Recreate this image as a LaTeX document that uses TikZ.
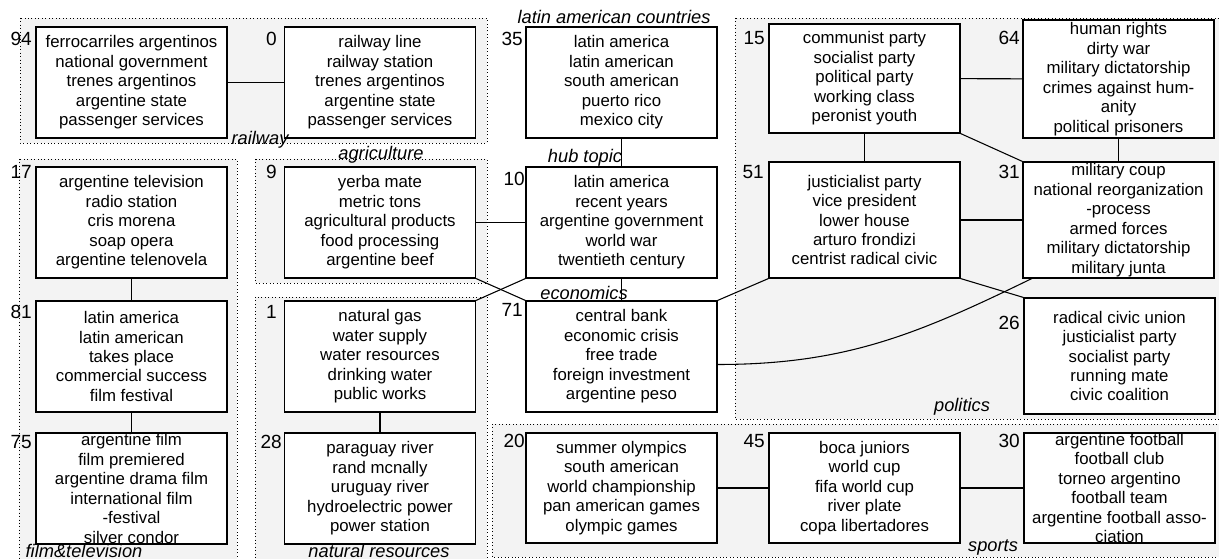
\documentclass[tikz,border=0pt]{standalone}
\usepackage{fontspec}
\setmainfont{Liberation Sans}
\usepackage{xcolor}
\usepackage{tikz}
\definecolor{groupgray}{HTML}{F3F3F3}
\definecolor{inkblack}{HTML}{000000}
\newcommand\topicsize{\fontsize{12.6pt}{14.6pt}\selectfont}
\newcommand\numsize{\fontsize{14.3pt}{16pt}\selectfont}
\newcommand\tagsize{\fontsize{13.7pt}{15pt}\selectfont}
\tikzset{
  topicbox/.style={draw=inkblack,line width=0.8pt,fill=white,minimum width=143.25pt,minimum height=83.25pt,inner xsep=2pt,inner ysep=0pt,align=center,font=\topicsize},
  topicnum/.style={anchor=east,inner sep=0pt,font=\numsize},
  grouparea/.style={draw=inkblack,dotted,line width=0.6pt,fill=groupgray},
  grouptag/.style={inner sep=0pt,font=\tagsize\itshape},
  topiclink/.style={draw=inkblack,line width=0.8pt},
}
\begin{document}
\begin{tikzpicture}[x=0.75pt,y=-0.75pt]
  \useasboundingbox (0,0) rectangle (1219,559);
  % topic groups
  \draw[grouparea] (20,18) rectangle (487,143);
  \draw[grouparea] (19,159) rectangle (237,566);
  \draw[grouparea] (255,159) rectangle (487,283);
  \draw[grouparea] (255,297) rectangle (487,566);
  \draw[grouparea] (735,18) rectangle (1226,419);
  \draw[grouparea] (492,424) rectangle (1226,557);
  % topics
  \node[topicbox] (b94) at (131.5,82.5) {ferrocarriles argentinos\\national government\\trenes argentinos\\argentine state\\passenger services};
  \node[topicbox] (b0) at (380,82.5) {railway line\\railway station\\trenes argentinos\\argentine state\\passenger services};
  \node[topicbox] (b35) at (621.5,82.5) {latin america\\latin american\\south american\\puerto rico\\mexico city};
  \node[topicbox,minimum height=81.75pt] (b15) at (864.5,78.5) {communist party\\socialist party\\political party\\working class\\peronist youth};
  \node[topicbox,minimum height=88.5pt] (b64) at (1118.5,79) {human rights\\dirty war\\military dictatorship\\crimes against hum-\\anity\\political prisoners};
  \node[topicbox] (b17) at (131.5,222.5) {argentine television\\radio station\\cris morena\\soap opera\\argentine telenovela};
  \node[topicbox] (b9) at (380,222.5) {yerba mate\\metric tons\\agricultural products\\food processing\\argentine beef};
  \node[topicbox] (b10) at (621.5,222.5) {latin america\\recent years\\argentine government\\world war\\twentieth century};
  \node[topicbox,minimum height=87pt] (b51) at (864.5,220) {justicialist party\\vice president\\lower house\\arturo frondizi\\centrist radical civic};
  \node[topicbox,minimum height=87pt] (b31) at (1118.5,220) {military coup\\national reorganization\\-process\\armed forces\\military dictatorship\\military junta};
  \node[topicbox] (b81) at (131.5,356.5) {latin america\\latin american\\takes place\\commercial success\\film festival};
  \node[topicbox] (b1) at (380,356.5) {natural gas\\water supply\\water resources\\drinking water\\public works};
  \node[topicbox] (b71) at (621.5,356.5) {central bank\\economic crisis\\free trade\\foreign investment\\argentine peso};
  \node[topicbox,minimum height=87pt] (b26) at (1119.5,356) {radical civic union\\justicialist party\\socialist party\\running mate\\civic coalition};
  \node[topicbox] (b75) at (131.5,488.5) {argentine film\\film premiered\\argentine drama film\\international film\\-festival\\silver condor};
  \node[topicbox] (b28) at (380,488.5) {paraguay river\\rand mcnally\\uruguay river\\hydroelectric power\\power station};
  \node[topicbox,minimum height=82.5pt] (b20) at (621.5,488) {summer olympics\\south american\\world championship\\pan american games\\olympic games};
  \node[topicbox,minimum height=82.5pt] (b45) at (864.5,488) {boca juniors\\world cup\\fifa world cup\\river plate\\copa libertadores};
  \node[topicbox,minimum height=82.5pt] (b30) at (1119.5,488) {argentine football\\football club\\torneo argentino\\football team\\argentine football asso-\\ciation};
  % links
  \draw[topiclink] (b94)--(b0); \draw[topiclink] (b35)--(b10); \draw[topiclink] (b10)--(b71);
  \draw[topiclink] (b15)--(b64); \draw[topiclink] (b15)--(b51); \draw[topiclink] (b64)--(b31);
  \draw[topiclink] (b51)--(b31); \draw[topiclink] (b15.south east)--(b31.north west);
  \draw[topiclink] (b51.south west)--(b71.north east); \draw[topiclink] (b51.south east)--(b26.north west);
  \draw[topiclink] (b9)--(b10); \draw[topiclink] (b9.south east)--(b71.north west);
  \draw[topiclink] (b1.north east)--(b10.south west);
  \draw[topiclink] (b17)--(b81); \draw[topiclink] (b81)--(b75); \draw[topiclink] (b1)--(b28);
  \draw[topiclink] (b20)--(b45); \draw[topiclink] (b45)--(b30);
  \draw[topiclink] ([yshift=-6pt]b71.east) to[out=0,in=206] ([xshift=7pt]b31.south west);
  % topic numbers
  \node[topicnum] (t94) at (32,39) {94};
  \node[topicnum] (t0) at (277,39) {0};
  \node[topicnum] (t35) at (523,39) {35};
  \node[topicnum] (t15) at (765,38) {15};
  \node[topicnum] (t64) at (1020,38) {64};
  \node[topicnum] (t17) at (32,172) {17};
  \node[topicnum] (t9) at (277,172) {9};
  \node[topicnum] (t10) at (525,179) {10};
  \node[topicnum] (t51) at (764,172) {51};
  \node[topicnum] (t31) at (1020,172) {31};
  \node[topicnum] (t81) at (32,312) {81};
  \node[topicnum] (t1) at (277,312) {1};
  \node[topicnum] (t71) at (523,310) {71};
  \node[topicnum] (t26) at (1020,323) {26};
  \node[topicnum] (t75) at (32,442) {75};
  \node[topicnum] (t28) at (282,442) {28};
  \node[topicnum] (t20) at (525,441) {20};
  \node[topicnum] (t45) at (765,441) {45};
  \node[topicnum] (t30) at (1020,441) {30};
  % group names
  \node[grouptag] (g-rail) at (260,140) {railway};
  \node[grouptag] (g-agri) at (381,155) {agriculture};
  \node[grouptag] (g-film) at (84,551) {film\&television};
  \node[grouptag] (g-nat) at (379,551) {natural resources};
  \node[grouptag] (g-latin) at (614,17) {latin american countries};
  \node[grouptag] (g-hub) at (585,158) {hub topic};
  \node[grouptag] (g-eco) at (584,293) {economics};
  \node[grouptag] (g-pol) at (962,407) {politics};
  \node[grouptag] (g-sport) at (993,547) {sports};
\end{tikzpicture}
\end{document}
